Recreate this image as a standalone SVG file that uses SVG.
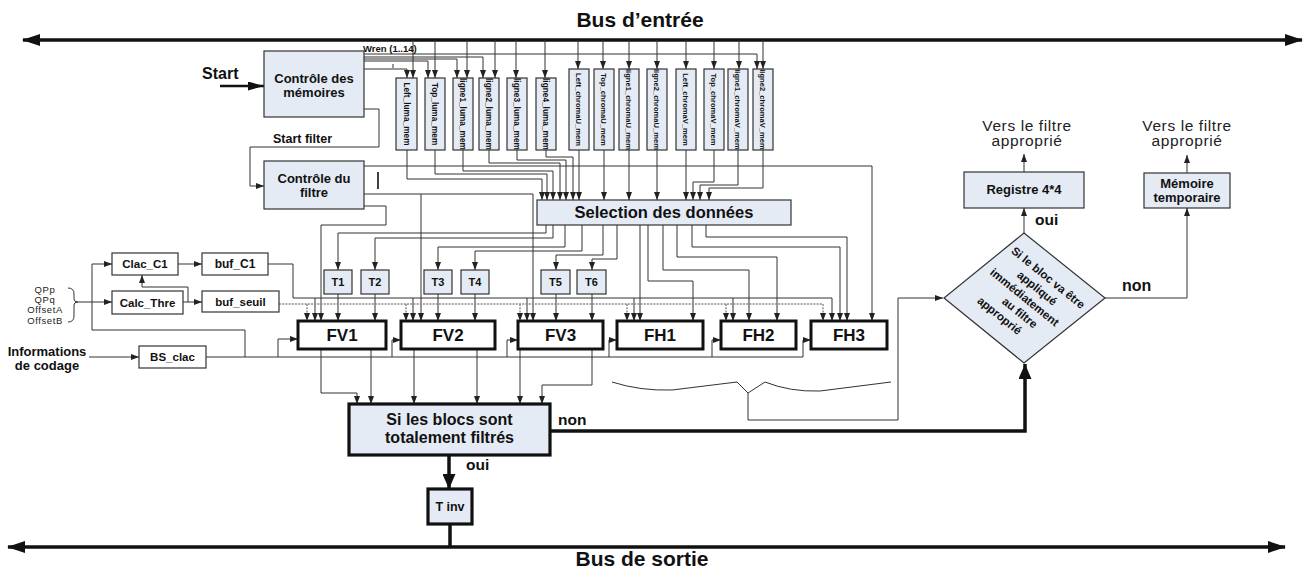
<svg xmlns="http://www.w3.org/2000/svg" width="1306" height="569" viewBox="0 0 1306 569">
<defs>
<style>
.b{fill:#e5ebf5;stroke:#333;stroke-width:1.2}
.w{fill:#fff;stroke:#333;stroke-width:1.2}
.k{fill:#fff;stroke:#111;stroke-width:3}
.kb{fill:#e5ebf5;stroke:#111;stroke-width:3.2}
.c{fill:none;stroke:#333;stroke-width:1}
.ca{fill:none;stroke:#333;stroke-width:1;marker-end:url(#a)}
.d{fill:none;stroke:#888;stroke-width:1.4;stroke-dasharray:2 1.2}
.da{fill:none;stroke:#888;stroke-width:1.4;stroke-dasharray:2 1.2;marker-end:url(#a)}
.bus{fill:none;stroke:#111;stroke-width:3.5;marker-start:url(#B);marker-end:url(#B)}
.th{fill:none;stroke:#111;stroke-width:3.5}
.t{font-family:"Liberation Sans",Arial,sans-serif;font-weight:bold;fill:#111}
.m{text-anchor:middle}
.r{font-family:"Liberation Sans",Arial,sans-serif;fill:#222}
.mem{font-family:"Liberation Sans",Arial,sans-serif;font-weight:bold;fill:#111;text-anchor:middle}
</style>
<marker id="a" viewBox="0 0 8 6" refX="8" refY="3" markerWidth="8" markerHeight="6" orient="auto" markerUnits="userSpaceOnUse"><path d="M0,0L8,3L0,6z" fill="#222"/></marker>
<marker id="B" viewBox="0 0 18 12" refX="17" refY="6" markerWidth="18" markerHeight="12" orient="auto-start-reverse" markerUnits="userSpaceOnUse"><path d="M0,0L18,6L0,12z" fill="#111"/></marker>
<marker id="T" viewBox="0 0 15 13" refX="15" refY="6.5" markerWidth="15" markerHeight="13" orient="auto" markerUnits="userSpaceOnUse"><path d="M0,0L15,6.5L0,13z" fill="#111"/></marker>
<marker id="S" viewBox="0 0 16 9" refX="16" refY="4.5" markerWidth="16" markerHeight="9" orient="auto" markerUnits="userSpaceOnUse"><path d="M0,0L16,4.5L0,9z" fill="#111"/></marker>
</defs>
<rect width="1306" height="569" fill="#fff"/>

<g id="connectors">
<path class="bus" d="M23,40H1302"/>
<path class="bus" d="M8,547H1285"/>
<path class="ca" d="M413,40V78"/><path class="ca" d="M435,40V78"/><path class="ca" d="M467,40V78"/><path class="ca" d="M495,40V78"/><path class="ca" d="M516,40V78"/><path class="ca" d="M545,40V78"/>
<path class="ca" d="M578,40V69"/><path class="ca" d="M603,40V69"/><path class="ca" d="M629,40V69"/><path class="ca" d="M657,40V69"/><path class="ca" d="M686,40V69"/><path class="ca" d="M714,40V69"/><path class="ca" d="M739,40V69"/><path class="ca" d="M763,40V69"/>
<path class="ca" d="M364,54H757V69"/>
<path class="ca" d="M364,57H483V78"/>
<path class="ca" d="M364,59H457V78"/>
<path class="ca" d="M364,61H428V78"/>
<path class="ca" d="M364,69H407V78"/>
<path class="c" d="M393,64V68"/>
<path d="M220,86H264" fill="none" stroke="#111" stroke-width="2.5" marker-end="url(#S)"/>
<path class="ca" d="M364,109H379V147H250V186H264"/>
<path class="ca" d="M407,150V179H542V200"/>
<path class="ca" d="M435,150V174H547V200"/>
<path class="ca" d="M463,150V171H553V200"/>
<path class="ca" d="M489,150V163H560V200"/>
<path class="ca" d="M517,150V160H566V200"/>
<path class="ca" d="M546,150V157H573V200"/>
<path class="ca" d="M579,150V200"/>
<path class="ca" d="M604,150V200"/>
<path class="ca" d="M629,150V200"/>
<path class="ca" d="M657,150V200"/>
<path class="ca" d="M686,150V200"/>
<path class="ca" d="M714,150V182H693V200"/>
<path class="ca" d="M738,150V185H700V200"/>
<path class="ca" d="M763,150V188H709V200"/>
<path class="ca" d="M364,166H872V321"/>
<path class="ca" d="M364,194H533V321"/>
<path class="ca" d="M421,194V321"/>
<path class="ca" d="M364,206H386V225H321V321"/>
<path d="M378,172V189" stroke="#111" stroke-width="1.6"/>
<path class="ca" d="M546,225V233H338V270"/>
<path class="ca" d="M553,225V238H375V270"/>
<path class="ca" d="M565,225V247H438V270"/>
<path class="ca" d="M582,225V251H475V270"/>
<path class="ca" d="M603,225V255H556V270"/>
<path class="ca" d="M617,225V259H592V270"/>
<path class="ca" d="M640,225V321"/>
<path class="ca" d="M648,225V281H693V321"/>
<path class="ca" d="M663,225V270H749V321"/>
<path class="ca" d="M677,225V257H777V321"/>
<path class="ca" d="M692,225V247H840V321"/>
<path class="ca" d="M706,225V237H847V321"/>
<path class="ca" d="M338,294V321"/><path class="ca" d="M375,294V321"/><path class="ca" d="M438,294V321"/><path class="ca" d="M475,294V321"/><path class="ca" d="M556,294V321"/><path class="ca" d="M592,294V321"/>
<path class="c" d="M268,264H293V298H832"/>
<path class="ca" d="M315,298V321"/><path class="ca" d="M413,298V321"/><path class="ca" d="M527,298V321"/><path class="ca" d="M634,298V321"/><path class="ca" d="M733,298V321"/><path class="ca" d="M832,298V321"/>
<path class="d" d="M279,304H823"/>
<path class="da" d="M307,304V321"/><path class="da" d="M406,304V321"/><path class="da" d="M520,304V321"/><path class="da" d="M627,304V321"/><path class="da" d="M726,304V321"/><path class="da" d="M823,304V321"/>
<path class="c" d="M206,357H803"/>
<path class="ca" d="M245,357V330H92V264H112"/>
<path class="ca" d="M278,357V339H298"/>
<path class="ca" d="M392,357V340H401"/>
<path class="ca" d="M507,357V340H518"/>
<path class="ca" d="M609,357V340H617"/>
<path class="ca" d="M712,357V340H721"/>
<path class="ca" d="M803,357V340H811"/>
<path class="c" d="M68,288Q74,288 74,294V299Q74,302 78,302Q74,302 74,305V316Q74,322 68,322"/>
<path class="ca" d="M78,302H112"/>
<path class="ca" d="M178,264H202"/>
<path class="ca" d="M183,302H202"/>
<path class="ca" d="M188,302V287H142V275"/>
<path class="ca" d="M89,357H139"/>
<path class="ca" d="M321,349V393H357V404"/>
<path class="ca" d="M371,349V404"/>
<path class="ca" d="M414,349V404"/>
<path class="ca" d="M477,349V404"/>
<path class="ca" d="M520,349V404"/>
<path class="ca" d="M592,349V385H542V404"/>
<path class="c" d="M612,382Q640,391 672,390L737,382L748,393L765,382Q790,392 820,391L891,382"/>
<path class="ca" d="M748,393V420H898V298H943"/>
<path class="th" d="M550,431H1025V364" marker-end="url(#T)"/>
<path class="th" d="M449,455V489" marker-end="url(#T)"/>
<path class="th" d="M450,524V547"/>
<path class="ca" d="M1024,233V208"/>
<path class="ca" d="M1024,172V154"/>
<path class="ca" d="M1105,298H1187V208"/>
<path class="ca" d="M1187,173V155"/>
</g>

<g id="bus-labels">
<text class="t m" x="640" y="27" font-size="21">Bus d’entrée</text>
<text class="t m" x="642" y="566" font-size="21">Bus de sortie</text>
<text class="t" x="202" y="79" font-size="16">Start</text>
<text class="t" x="363" y="52" font-size="9.5">Wren (1..14)</text>
<text class="t" x="273" y="143" font-size="12.5">Start filter</text>
</g>

<g id="ctrl-mem"><rect class="b" x="264" y="51" width="100" height="66"/>
<text class="t m" x="314" y="83" font-size="13">Contrôle des</text><text class="t m" x="314" y="97" font-size="13">mémoires</text></g>
<g id="ctrl-filtre"><rect class="b" x="264" y="161" width="100" height="48"/>
<text class="t m" x="314" y="183" font-size="13">Contrôle du</text><text class="t m" x="314" y="197" font-size="13">filtre</text></g>

<g id="m1"><rect class="b" x="396" y="78" width="21" height="72"/><text class="mem" font-size="8.3" dy="3" transform="translate(406.5,114) rotate(90)">Left_luma_mem</text></g>
<g id="m2"><rect class="b" x="425" y="78" width="20" height="72"/><text class="mem" font-size="8.3" dy="3" transform="translate(435,114) rotate(90)">Top_luma_mem</text></g>
<g id="m3"><rect class="b" x="453" y="78" width="20" height="72"/><text class="mem" font-size="8.3" dy="3" transform="translate(463,114) rotate(90)">ligne1_luma_mem</text></g>
<g id="m4"><rect class="b" x="479" y="78" width="20" height="72"/><text class="mem" font-size="8.3" dy="3" transform="translate(489,114) rotate(90)">ligne2_luma_mem</text></g>
<g id="m5"><rect class="b" x="507" y="78" width="20" height="72"/><text class="mem" font-size="8.3" dy="3" transform="translate(517,114) rotate(90)">ligne3_luma_mem</text></g>
<g id="m6"><rect class="b" x="536" y="78" width="20" height="72"/><text class="mem" font-size="8.3" dy="3" transform="translate(546,114) rotate(90)">ligne4_luma_mem</text></g>
<g id="m7"><rect class="b" x="569" y="69" width="20" height="81"/><text class="mem" font-size="7.6" dy="3" transform="translate(579,109.5) rotate(90)">Left_chromaU_mem</text></g>
<g id="m8"><rect class="b" x="594" y="69" width="20" height="81"/><text class="mem" font-size="7.6" dy="3" transform="translate(604,109.5) rotate(90)">Top_chromaU_mem</text></g>
<g id="m9"><rect class="b" x="619" y="69" width="20" height="81"/><text class="mem" font-size="7.6" dy="3" transform="translate(629,109.5) rotate(90)">ligne1_chromaU_mem</text></g>
<g id="m10"><rect class="b" x="647" y="69" width="20" height="81"/><text class="mem" font-size="7.6" dy="3" transform="translate(657,109.5) rotate(90)">ligne2_chromaU_mem</text></g>
<g id="m11"><rect class="b" x="676" y="69" width="20" height="81"/><text class="mem" font-size="7.6" dy="3" transform="translate(686,109.5) rotate(90)">Left_chromaV_mem</text></g>
<g id="m12"><rect class="b" x="704" y="69" width="20" height="81"/><text class="mem" font-size="7.6" dy="3" transform="translate(714,109.5) rotate(90)">Top_chromaV_mem</text></g>
<g id="m13"><rect class="b" x="728" y="69" width="20" height="81"/><text class="mem" font-size="7.6" dy="3" transform="translate(738,109.5) rotate(90)">ligne1_chromaV_mem</text></g>
<g id="m14"><rect class="b" x="753" y="69" width="20" height="81"/><text class="mem" font-size="7.6" dy="3" transform="translate(763,109.5) rotate(90)">ligne2_chromaV_mem</text></g>

<g id="selection"><rect class="b" x="537" y="200" width="254" height="25"/><text class="t m" x="664" y="218" font-size="16.5">Selection des données</text></g>

<g id="t1"><rect class="b" x="324" y="270" width="28" height="24"/><text class="t m" x="338" y="286" font-size="11">T1</text></g>
<g id="t2"><rect class="b" x="361" y="270" width="28" height="24"/><text class="t m" x="375" y="286" font-size="11">T2</text></g>
<g id="t3"><rect class="b" x="424" y="270" width="28" height="24"/><text class="t m" x="438" y="286" font-size="11">T3</text></g>
<g id="t4"><rect class="b" x="461" y="270" width="28" height="24"/><text class="t m" x="475" y="286" font-size="11">T4</text></g>
<g id="t5"><rect class="b" x="541" y="270" width="29" height="24"/><text class="t m" x="555.5" y="286" font-size="11">T5</text></g>
<g id="t6"><rect class="b" x="577" y="270" width="29" height="24"/><text class="t m" x="591.5" y="286" font-size="11">T6</text></g>

<g id="fv1"><rect class="k" x="298" y="321" width="88" height="28"/><text class="t m" x="342" y="341" font-size="17">FV1</text></g>
<g id="fv2"><rect class="k" x="401" y="321" width="94" height="28"/><text class="t m" x="448" y="341" font-size="17">FV2</text></g>
<g id="fv3"><rect class="k" x="518" y="321" width="85" height="28"/><text class="t m" x="560.5" y="341" font-size="17">FV3</text></g>
<g id="fh1"><rect class="k" x="617" y="321" width="86" height="28"/><text class="t m" x="660" y="341" font-size="17">FH1</text></g>
<g id="fh2"><rect class="k" x="721" y="321" width="75" height="28"/><text class="t m" x="758.5" y="341" font-size="17">FH2</text></g>
<g id="fh3"><rect class="k" x="811" y="321" width="76" height="28"/><text class="t m" x="849" y="341" font-size="17">FH3</text></g>

<g id="qp-inputs">
<text class="r m" x="45" y="293" font-size="9.5" letter-spacing="0.6">QPp</text>
<text class="r m" x="45" y="302.5" font-size="9.5" letter-spacing="0.6">QPq</text>
<text class="r m" x="45" y="313" font-size="9.5" letter-spacing="0.6">OffsetA</text>
<text class="r m" x="45" y="324" font-size="9.5" letter-spacing="0.6">OffsetB</text>
</g>
<g id="info"><text class="t m" x="47" y="356" font-size="13">Informations</text><text class="t m" x="47" y="370" font-size="13">de codage</text></g>
<g id="clac_c1"><rect class="w" x="112" y="253" width="66" height="22"/><text class="t m" x="145" y="268" font-size="11.5">Clac_C1</text></g>
<g id="calc_thre"><rect class="w" x="112" y="291" width="71" height="23"/><text class="t m" x="147.5" y="306.5" font-size="11.5">Calc_Thre</text></g>
<g id="buf_c1"><rect class="w" x="202" y="253" width="66" height="22"/><text class="t m" x="235" y="268" font-size="12">buf_C1</text></g>
<g id="buf_seuil"><rect class="w" x="202" y="291" width="77" height="21"/><text class="t m" x="240.5" y="306" font-size="11.5">buf_seuil</text></g>
<g id="bs_clac"><rect class="w" x="139" y="346" width="67" height="22"/><text class="t m" x="172.5" y="361" font-size="11.5">BS_clac</text></g>

<g id="decision1"><rect class="kb" x="349" y="404" width="201" height="51"/>
<text class="t m" x="449.5" y="425" font-size="16">Si les blocs sont</text><text class="t m" x="449.5" y="443" font-size="16">totalement filtrés</text></g>
<g id="lbl-non1"><text class="t" x="558" y="425" font-size="15.5">non</text></g>
<g id="lbl-oui1"><text class="t" x="466" y="470" font-size="15.5">oui</text></g>
<g id="tinv"><rect class="kb" x="428" y="489" width="44" height="35" stroke-width="3"/><text class="t m" x="450" y="511" font-size="12.5">T inv</text></g>

<g id="decision2"><polygon class="b" points="1024,233 1105,298 1024,363 944,298"/>
<g transform="translate(1024,298) rotate(39)">
<text class="t m" x="6" y="-27" font-size="11.5">Si le bloc va être</text>
<text class="t m" x="4" y="-12" font-size="11.5">appliqué</text>
<text class="t m" x="0" y="3" font-size="11.5">immédiatement</text>
<text class="t m" x="6" y="18" font-size="11.5">au filtre</text>
<text class="t m" x="-8" y="33" font-size="11.5">approprié</text>
</g></g>
<g id="lbl-oui2"><text class="t" x="1035" y="225" font-size="15.5">oui</text></g>
<g id="lbl-non2"><text class="t" x="1122" y="291" font-size="16">non</text></g>
<g id="registre"><rect class="b" x="964" y="172" width="120" height="36" stroke-width="1.5"/><text class="t m" x="1024" y="194" font-size="13">Registre 4*4</text></g>
<g id="memoire-temp"><rect class="b" x="1144" y="173" width="86" height="35" stroke-width="1.5"/><text class="t m" x="1187" y="188" font-size="13">Mémoire</text><text class="t m" x="1187" y="202" font-size="13">temporaire</text></g>
<g id="out1"><text class="r m" x="1027" y="131" font-size="15.5" letter-spacing="0.6">Vers le filtre</text><text class="r m" x="1027" y="146" font-size="15.5" letter-spacing="0.6">approprié</text></g>
<g id="out2"><text class="r m" x="1187" y="131" font-size="15.5" letter-spacing="0.6">Vers le filtre</text><text class="r m" x="1187" y="146" font-size="15.5" letter-spacing="0.6">approprié</text></g>
</svg>
